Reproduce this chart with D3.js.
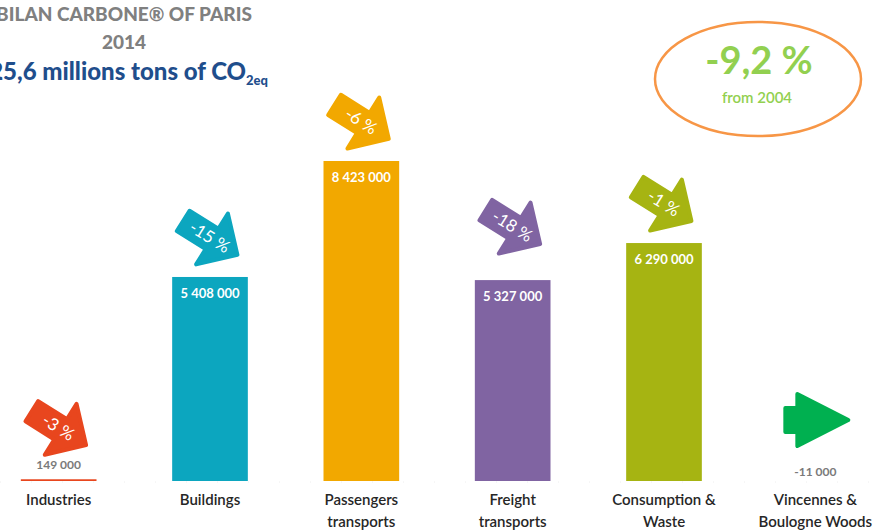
<!DOCTYPE html>
<html>
<head>
<meta charset="utf-8">
<script src="https://cdn.jsdelivr.net/npm/d3@7"></script>
<style>
  body { margin: 0; background: #fff; }
  svg { display: block; font-family: Lato, "Open Sans", sans-serif; }
</style>
</head>
<body>
<svg id="chart" width="888" height="531"></svg>
<script>
// data
const categories = ["Industries", "Buildings", "Passengers transports", "Freight transports", "Consumption & Waste", "Vincennes & Boulogne Woods"];
const categoryLines = [["Industries"], ["Buildings"], ["Passengers", "transports"], ["Freight", "transports"], ["Consumption &", "Waste"], ["Vincennes &", "Boulogne Woods"]];
const emissions = [149000, 5408000, 8423000, 5327000, 6290000, -11000];
const changes = ["-3 %", "-15 %", "-6 %", "-18 %", "-1 %", null];
const colors = ["#e8461e", "#0ca6bf", "#f2a800", "#8064a2", "#a6b412", "#00b050"];
const titleLines = ["BILAN CARBONE® OF PARIS", "2014"];
const totalText = "25,6 millions tons of CO";
const totalChange = "-9,2 %";
const totalSince = "from 2004";

const svg = d3.select("#chart");
const W = 888, H = 531;

const x = d3.scaleBand()
    .domain(categories)
    .range([-17, 891])
    .paddingInner(0.5)
    .paddingOuter(0.25);

// the original axis does not start exactly at zero
const y = d3.scaleLinear()
    .domain([104000, 8423000])
    .range([481, 161]);
const base = y.range()[0];

const fmt = v => d3.format(",")(v).replace(/,/g, " ").replace("−", "-");

// faint baseline
svg.append("line")
    .attr("x1", 0).attr("x2", W)
    .attr("y1", base + 1).attr("y2", base + 1)
    .attr("stroke", "#eee")
    .attr("stroke-dasharray", "1,30");

const g = svg.selectAll("g.cat")
    .data(categories)
    .enter().append("g")
    .attr("class", "cat");

// bars
g.append("rect")
    .attr("x", d => x(d))
    .attr("width", x.bandwidth())
    .attr("y", (d, i) => Math.min(y(emissions[i]), base - 1))
    .attr("height", (d, i) => Math.max(1, base - y(emissions[i])))
    .attr("fill", (d, i) => colors[i])
    .style("display", (d, i) => emissions[i] < 0 ? "none" : null);

// value labels
g.append("text")
    .attr("x", d => x(d) + x.bandwidth() / 2)
    .attr("y", (d, i) => {
        let top = y(emissions[i]);
        if (base - top > 30) return top + 21;
        return Math.min(top, base) - (emissions[i] < 0 ? 5 : 10);
    })
    .attr("text-anchor", "middle")
    .attr("font-weight", "bold")
    .attr("font-size", (d, i) => base - y(emissions[i]) > 30 ? 13 : 12)
    .attr("fill", (d, i) => base - y(emissions[i]) > 30 ? "#fff" : "#7a7a7a")
    .text((d, i) => fmt(emissions[i]));

// category labels
g.each(function(d, i) {
    let t = d3.select(this).append("text")
        .attr("text-anchor", "middle")
        .attr("font-size", 15)
        .attr("font-weight", 600)
        .attr("fill", "#262626");
    categoryLines[i].forEach((line, k) => {
        t.append("tspan")
            .attr("x", x(d) + x.bandwidth() / 2)
            .attr("y", 505 + k * 22)
            .text(line);
    });
});

// trend arrows
const lift = [12, 0, 0, 14, 0, 0];
const downArrow = "M-34,-12 L0,-12 L0,-30 L30,0 L0,30 L0,12 L-34,12 Z";
const rightArrow = "M-30,-12 L-18,-12 L-18,-26 L33,0 L-18,26 L-18,12 L-30,12 Z";

g.each(function(d, i) {
    let cx = x(d) + x.bandwidth() / 2;
    let top = Math.min(y(emissions[i]), base);
    if (changes[i] == null) {
        d3.select(this).append("path")
            .attr("d", rightArrow)
            .attr("transform", "translate(" + cx + "," + (top - 61) + ")")
            .attr("fill", colors[i])
            .attr("stroke", colors[i])
            .attr("stroke-width", 4)
            .attr("stroke-linejoin", "round");
        return;
    }
    let a = d3.select(this).append("g")
        .attr("transform", "translate(" + (cx + 2) + "," + (top - 38 - lift[i]) + ") rotate(32)");
    a.append("path")
        .attr("d", downArrow)
        .attr("fill", colors[i])
        .attr("stroke", colors[i])
        .attr("stroke-width", 4)
        .attr("stroke-linejoin", "round");
    a.append("text")
        .attr("x", -3).attr("y", -1)
        .attr("text-anchor", "middle")
        .attr("dominant-baseline", "central")
        .attr("font-size", 17)
        .attr("fill", "#fff")
        .text(changes[i]);
});

// title
titleLines.forEach((line, k) => {
    svg.append("text")
        .attr("x", 124).attr("y", 21 + k * 28)
        .attr("text-anchor", "middle")
        .attr("font-size", 19)
        .attr("font-weight", 900)
        .attr("fill", "#808080")
        .text(line);
});
let tt = svg.append("text")
    .attr("x", 268).attr("y", 80)
    .attr("text-anchor", "end")
    .attr("font-size", 24)
    .attr("font-weight", 900)
    .attr("fill", "#1f4e8c");
tt.append("tspan").text(totalText);
tt.append("tspan").attr("font-size", 13).attr("dy", 5).text("2eq");

// overall change bubble
svg.append("ellipse")
    .attr("cx", 758).attr("cy", 79)
    .attr("rx", 103).attr("ry", 57)
    .attr("fill", "none")
    .attr("stroke", "#f79646")
    .attr("stroke-width", 2.5);
svg.append("text")
    .attr("x", 759).attr("y", 74)
    .attr("text-anchor", "middle")
    .attr("font-size", 38)
    .attr("font-weight", "bold")
    .attr("fill", "#92d050")
    .text(totalChange);
svg.append("text")
    .attr("x", 757).attr("y", 103)
    .attr("text-anchor", "middle")
    .attr("font-size", 15)
    .attr("font-weight", 600)
    .attr("fill", "#92d050")
    .text(totalSince);
</script>
</body>
</html>
